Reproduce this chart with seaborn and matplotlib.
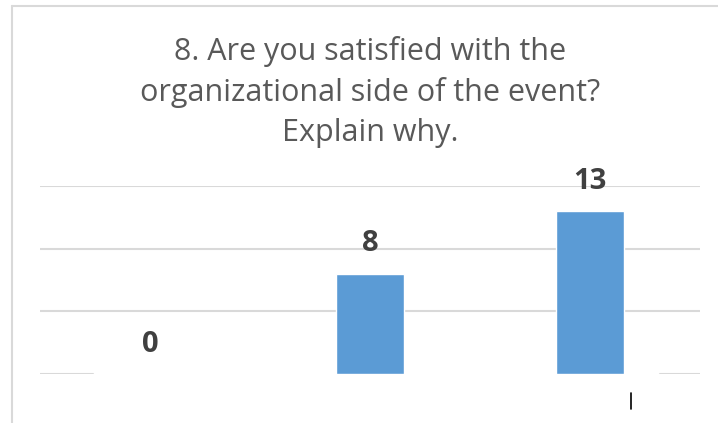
import matplotlib
matplotlib.use("Agg")
import matplotlib.pyplot as plt
import seaborn as sns
from matplotlib.lines import Line2D

# data
categories = ["Answer A", "Answer B", "Answer C"]
values = [0, 8, 13]
grid_ticks = [5, 10, 15]
title = "8. Are you satisfied with the\norganizational side of the event?\nExplain why."

sns.set_theme(style="white")
plt.rcParams["font.family"] = ["Open Sans", "DejaVu Sans"]

fig = plt.figure(figsize=(7.18, 4.23), dpi=100)
ax = fig.add_axes([40 / 718, 49 / 423, 660 / 718, 188 / 423])

sns.barplot(x=categories, y=values, color="#5B9BD5", width=0.31,
            saturation=1, ax=ax, zorder=3)

ax.set_ylim(0, 15)
ax.set_xlim(-0.5, 2.5)
for t in grid_ticks:
    ax.axhline(t, color="#D9D9D9", lw=1.5, zorder=1)
# baseline only shows at the two ends in the reference
ax.axhline(0, xmin=0, xmax=53 / 660, color="#D9D9D9", lw=1.5, zorder=1)
ax.axhline(0, xmin=620 / 660, xmax=1, color="#D9D9D9", lw=1.5, zorder=1)

for i, v in enumerate(values):
    ax.annotate(str(v), (i, v), xytext=(0, 11), textcoords="offset points",
                ha="center", va="bottom", fontsize=21, fontweight="bold",
                color="#404040")

ax.set_xticks([])
ax.set_yticks([])
ax.set_xlabel("")
ax.set_ylabel("")
for s in ax.spines.values():
    s.set_visible(False)

fig.text(370 / 718, 1 - 92 / 423, title, ha="center", va="center", fontsize=22,
         color="#595959", linespacing=1.42)

# outer chart border (left and top) and the small stray mark
fig.add_artist(Line2D([12 / 718, 12 / 718], [0, 1 - 6 / 423],
                      color="#D9D9D9", lw=1.5, transform=fig.transFigure))
fig.add_artist(Line2D([12 / 718, 1], [1 - 6 / 423, 1 - 6 / 423],
                      color="#D9D9D9", lw=1.5, transform=fig.transFigure))
fig.add_artist(Line2D([631 / 718, 631 / 718], [1 - 409 / 423, 1 - 393 / 423],
                      color="black", lw=1.2, transform=fig.transFigure))

fig.savefig("out.png", dpi=100)
